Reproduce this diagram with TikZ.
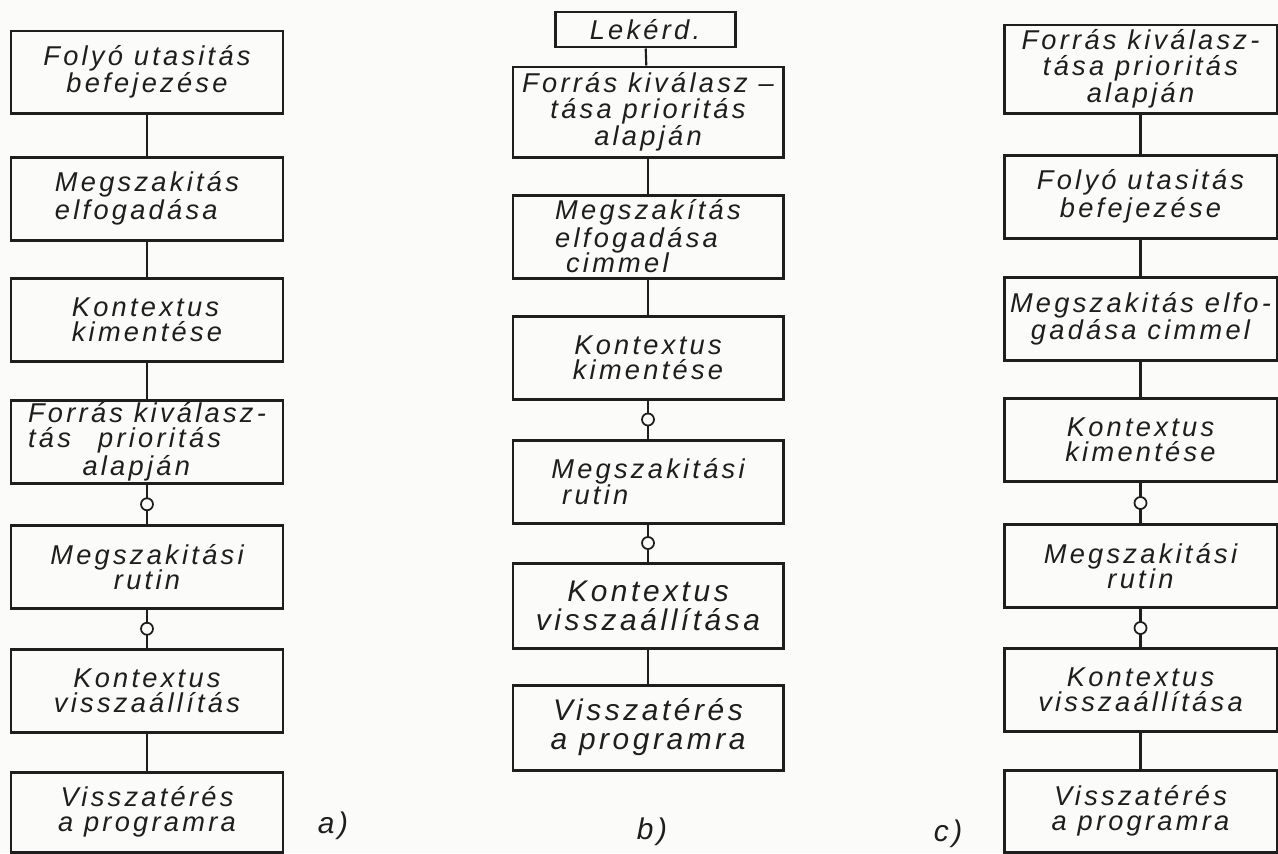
\documentclass[tikz,border=0pt]{standalone}
\usepackage{fontspec}
\newfontfamily\lettering[LetterSpace=12]{Liberation Sans}
\definecolor{paper}{RGB}{251,251,249}
\definecolor{ink}{RGB}{30,30,30}

\tikzset{
    stepbox/.style={draw=ink, text=ink, line width=1.7pt, inner sep=0pt, align=center,
        minimum width=\colw*\u, minimum height=83*\u,
        font=\lettering\itshape\fontsize{15.5}{14.5}\selectfont},
    bigtext/.style={font=\lettering\itshape\fontsize{17}{16.5}\selectfont},
    link/.style={draw=ink, line width=1.2pt},
    knob/.style={circle, draw=ink, fill=paper, line width=1pt, inner sep=0pt, minimum size=12*\u},
    tag/.style={text=ink, font=\lettering\itshape\fontsize{17}{18}\selectfont}
}

\begin{document}
\begin{tikzpicture}[x=0.02cm, y=-0.02cm]
    \def\u{0.02cm}
    \fill[paper] (0,0) rectangle (1278,853);
    \useasboundingbox (0,0) rectangle (1278,853);

    % a) oszlop
    \def\colw{272}
    \node[stepbox, minimum height=82*\u] (a1) at (147,72) {Folyó utasitás\\befejezése};
    \node[stepbox, align=left] (a2) at (147,198.5) {Megszakitás\\elfogadása};
    \node[stepbox, align=left] (a3) at (147,320) {Kontextus\\kimentése};
    \node[stepbox, align=left] (a4) at (147,441.5) {Forrás kiválasz-\\tás\quad prioritás\\\qquad alapján};
    \node[stepbox] (a5) at (147,567) {Megszakitási\\rutin};
    \node[stepbox] (a6) at (147,690.5) {Kontextus\\visszaállítás};
    \node[stepbox, minimum height=80*\u] (a7) at (147,812) {Visszatérés\\a programra};
    \node[tag] (la) at (333,826) {a)};

    % b) oszlop
    \def\colw{270}
    \node[stepbox, minimum width=180*\u, minimum height=35*\u] (b1) at (645,29.5) {Lekérd.};
    \node[stepbox, minimum height=90*\u] (b2) at (648,112) {Forrás kiválasz –\\tása prioritás\\alapján};
    \node[stepbox, align=left] (b3) at (648,236.5) {Megszakítás\\elfogadása\\\ cimmel};
    \node[stepbox] (b4) at (648,357.5) {Kontextus\\kimentése};
    \node[stepbox, align=left] (b5) at (648,481.5) {Megszakitási\\\ rutin};
    \node[stepbox, bigtext, minimum height=85*\u] (b6) at (648,605.5) {Kontextus\\visszaállítása};
    \node[stepbox, bigtext, minimum height=85*\u] (b7) at (648,727.5) {Visszatérés\\a programra};
    \node[tag] (lb) at (652,832) {b)};

    % c) oszlop
    \def\colw{273}
    \node[stepbox, minimum height=88*\u] (c1) at (1140.5,69) {Forrás kiválasz-\\tása prioritás\\alapján};
    \node[stepbox] (c2) at (1140.5,196.5) {Folyó utasitás\\befejezése};
    \node[stepbox] (c3) at (1140.5,319) {Megszakitás elfo-\\gadása cimmel};
    \node[stepbox] (c4) at (1140.5,440) {Kontextus\\kimentése};
    \node[stepbox] (c5) at (1140.5,566) {Megszakitási\\rutin};
    \node[stepbox] (c6) at (1140.5,690) {Kontextus\\visszaállítása};
    \node[stepbox, minimum height=82*\u] (c7) at (1140.5,811) {Visszatérés\\a programra};
    \node[tag] (lc) at (948,834) {c)};

    % sima kapcsolatok
    \foreach \p/\q in {a1/a2,a2/a3,a3/a4,a6/a7,b1/b2,b2/b3,b3/b4,b6/b7,c1/c2,c2/c3,c3/c4,c6/c7}
        \draw[link] (\p) -- (\q);
    % kapcsolatok karikával
    \foreach \p/\q in {a4/a5,a5/a6,b4/b5,b5/b6,c4/c5,c5/c6}
        \draw[link] (\p) -- node[knob]{} (\q);
\end{tikzpicture}
\end{document}
